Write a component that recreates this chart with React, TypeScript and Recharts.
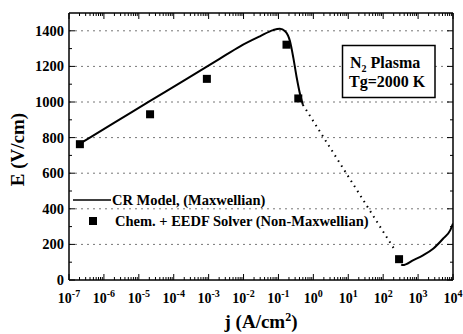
import React from "react";
import { ComposedChart, Line, Scatter, XAxis, YAxis, CartesianGrid, Label } from "recharts";

// CR model (Maxwellian), rising branch up to the peak and steep drop
const crLeftJ = [2e-7, 2e-6, 2e-5, 2e-4, 2e-3, 0.008, 0.0295, 0.071, 0.11, 0.155, 0.214, 0.267, 0.334, 0.416, 0.5];
const crLeftE = [765, 884, 1003, 1122, 1241, 1313, 1369, 1404, 1411, 1397, 1341, 1248, 1136, 1043, 985];
// dotted bridge (unstable region)
const crMidJ = [0.5, 210];
const crMidE = [985, 172];
// CR model, high-current branch
const crRightJ = [330, 363, 735, 1420, 2750, 5250, 8300, 10000];
const crRightE = [88, 84, 112, 140, 177, 233, 279, 317];
// Chem. + EEDF solver points
const solverJ = [2.05e-7, 2.1e-5, 8.9e-4, 0.17, 0.37, 285];
const solverE = [763, 931, 1130, 1322, 1020, 117];

const xMajor = [1e-7, 1e-6, 1e-5, 1e-4, 1e-3, 1e-2, 1e-1, 1e0, 1e1, 1e2, 1e3, 1e4];
const yTicks = [0, 100, 200, 300, 400, 500, 600, 700, 800, 900, 1000, 1100, 1200, 1300, 1400, 1500];
const yLabelled = [0, 200, 400, 600, 800, 1000, 1200, 1400];
const gridY = [200, 400, 600, 800, 1000, 1200, 1400];

const xTicks: number[] = [];
xMajor.forEach((d, i) => {
  xTicks.push(d);
  if (i < xMajor.length - 1) for (let m = 2; m <= 9; m++) xTicks.push(d * m);
});

const zip = (js: number[], es: number[]) => js.map((j, i) => ({ j, E: es[i] }));
const crLeft = zip(crLeftJ, crLeftE);
const crMid = zip(crMidJ, crMidE);
const crRight = zip(crRightJ, crRightE);
const solver = zip(solverJ, solverE);

// layout
const W = 463, H = 334;
const M = { top: 12, right: 9, bottom: 0, left: 0 };
const Y_W = 69, X_H = 54;
const PW = W - M.left - M.right - Y_W - 1; // plot width (right axis is 1px)
const PH = H - M.top - M.bottom - X_H - 1; // plot height (top axis is 1px)

const FONT = "'Liberation Serif', serif";
const isMajor = (v: number) => Math.abs(Math.log10(v) - Math.round(Math.log10(v))) < 1e-6;

// bottom ticks + mirrored top ticks
const BottomTick = ({ x, y, payload }: any) => {
  const v = payload.value;
  const major = isMajor(v);
  const len = major ? 6 : 3;
  const e = Math.round(Math.log10(v));
  const top = y - PH;
  return (
    <g>
      <line x1={x} x2={x} y1={y} y2={y - len} stroke="#000" />
      <line x1={x} x2={x} y1={top} y2={top + len} stroke="#000" />
      {major && (
        <text x={x} y={y + 23} textAnchor="middle" fontFamily={FONT} fontWeight="bold" fontSize={14} fill="#000">
          10<tspan dy={-6} fontSize={10}>{e}</tspan>
        </text>
      )}
    </g>
  );
};

// left ticks + mirrored right ticks
const LeftTick = ({ x, y, payload }: any) => {
  const v = payload.value;
  if (v === yTicks[yTicks.length - 1]) return <g />;
  const major = yLabelled.includes(v);
  const len = major ? 6 : 3;
  const right = x + PW;
  return (
    <g>
      <line x1={x} x2={x + len} y1={y} y2={y} stroke="#000" />
      <line x1={right} x2={right - len} y1={y} y2={y} stroke="#000" />
      {major && (
        <text x={x - 5} y={y + 5} textAnchor="end" fontFamily={FONT} fontWeight="bold" fontSize={14.5} fill="#000">
          {v}
        </text>
      )}
    </g>
  );
};

const Square = (p: any) => <rect x={p.cx - 4} y={p.cy - 4} width={8} height={8} fill="#000" />;

export default function App() {
  return (
    <div style={{ position: "absolute", left: 0, top: 0, width: W, height: H, background: "#fff" }}>
      <ComposedChart width={W} height={H} margin={M}>
        <CartesianGrid xAxisId="b" yAxisId="l" vertical={false} horizontalValues={gridY} stroke="#777" strokeDasharray="2 4" />
        <XAxis
          xAxisId="b" dataKey="j" type="number" scale="log" domain={[1e-7, 1e4]} allowDataOverflow
          ticks={xTicks} interval={0} tickSize={0} tickMargin={0} tickLine={false} tick={<BottomTick />}
          axisLine={{ stroke: "#000", strokeWidth: 1.5 }} height={X_H}
        >
          <Label
            content={({ viewBox }: any) => (
              <text x={viewBox.x + viewBox.width / 2} y={viewBox.y + 48} textAnchor="middle" fontFamily={FONT} fontWeight="bold" fontSize={19} fill="#000">
                j (A/cm<tspan dy={-7} fontSize={12}>2</tspan><tspan dy={7}>)</tspan>
              </text>
            )}
          />
        </XAxis>
        <XAxis xAxisId="t" dataKey="j" orientation="top" type="number" scale="log" domain={[1e-7, 1e4]} allowDataOverflow height={1} tick={false} axisLine={{ stroke: "#000", strokeWidth: 1.5 }} />
        <YAxis
          yAxisId="l" dataKey="E" type="number" domain={[0, 1500]} allowDataOverflow
          ticks={yTicks} interval={0} tickSize={0} tickMargin={0} tickLine={false} tick={<LeftTick />}
          axisLine={{ stroke: "#000", strokeWidth: 1.5 }} width={Y_W}
        >
          <Label
            content={({ viewBox }: any) => {
              const cx = viewBox.x + 17;
              const cy = viewBox.y + viewBox.height / 2 + 3;
              return (
                <text x={cx} y={cy} transform={`rotate(-90, ${cx}, ${cy})`} textAnchor="middle" dominantBaseline="central" fontFamily={FONT} fontWeight="bold" fontSize={19} fill="#000">
                  E (V/cm)
                </text>
              );
            }}
          />
        </YAxis>
        <YAxis yAxisId="r" dataKey="E" orientation="right" type="number" domain={[0, 1500]} allowDataOverflow width={1} tick={false} axisLine={{ stroke: "#000", strokeWidth: 1.5 }} />
        <Line xAxisId="b" yAxisId="l" data={crLeft} dataKey="E" type="monotone" stroke="#000" strokeWidth={2} dot={false} isAnimationActive={false} />
        <Line xAxisId="b" yAxisId="l" data={crMid} dataKey="E" type="linear" stroke="#000" strokeWidth={2} strokeDasharray="1.5 4.5" dot={false} isAnimationActive={false} />
        <Line xAxisId="b" yAxisId="l" data={crRight} dataKey="E" type="monotone" stroke="#000" strokeWidth={2} dot={false} isAnimationActive={false} />
        <Scatter xAxisId="b" yAxisId="l" data={solver} dataKey="E" shape={Square} isAnimationActive={false} />
      </ComposedChart>

      <svg style={{ position: "absolute", left: 0, top: 0, pointerEvents: "none" }} width={W} height={H}>
        <line x1={73} x2={111} y1={200} y2={200} stroke="#000" strokeWidth={1.6} />
        <text x={112} y={205} fontFamily={FONT} fontWeight="bold" fontSize={14.5} fill="#000">CR Model, (Maxwellian)</text>
        <rect x={89} y={217} width={8} height={8} fill="#000" />
        <text x={115} y={226} fontFamily={FONT} fontWeight="bold" fontSize={14.5} fill="#000">Chem. + EEDF Solver (Non-Maxwellian)</text>
        <rect x={342.5} y={45.5} width={92.5} height={52} fill="#fff" stroke="#000" strokeWidth={1.5} />
        <text x={350} y={68} fontFamily={FONT} fontWeight="bold" fontSize={16} fill="#000">
          N<tspan dy={4} fontSize={10}>2</tspan><tspan dy={-4}> Plasma</tspan>
        </text>
        <text x={349} y={87} fontFamily={FONT} fontWeight="bold" fontSize={16} fill="#000">Tg=2000 K</text>
      </svg>
    </div>
  );
}
